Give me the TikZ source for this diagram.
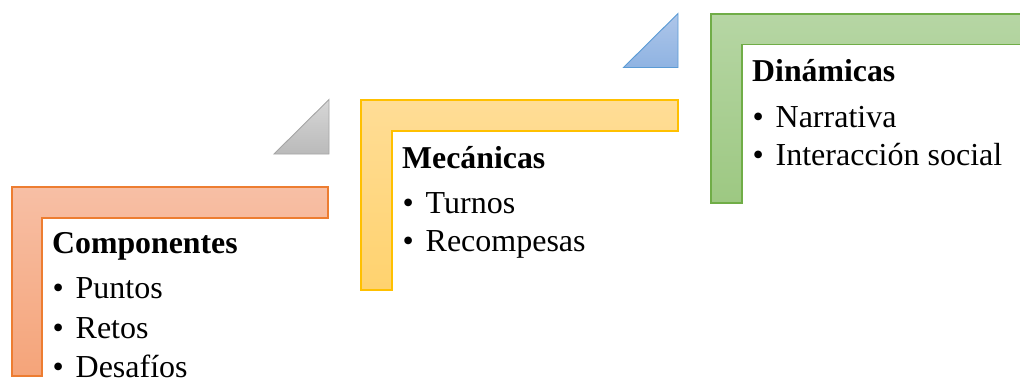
\documentclass[tikz,border=0pt]{standalone}
\usepackage{fontspec}
\setmainfont{Liberation Serif}
\begin{document}
\begin{tikzpicture}[x=1pt,y=-1pt,
  head/.style={anchor=base west,inner sep=0pt,font=\fontsize{31.8}{37}\selectfont\bfseries},
  item/.style={anchor=base west,inner sep=0pt,font=\fontsize{32}{37}\selectfont},
  lshape/.style={line width=1.1pt},
  tri/.style={line width=0.9pt}]
\useasboundingbox (0,0) rectangle (1020,378);
\clip (0,0) rectangle (1020,378);
\newcommand{\bul}[1]{\makebox[23pt][l]{•}#1}
% orange L
\shade[lshape, draw={rgb,255:red,237;green,125;blue,49},
  top color={rgb,255:red,247;green,191;blue,165}, bottom color={rgb,255:red,245;green,164;blue,121}]
  (12,187) -- (328,187) -- (328,218) -- (42,218) -- (42,376) -- (12,376) -- cycle;
% yellow L
\shade[lshape, draw={rgb,255:red,255;green,192;blue,0},
  top color={rgb,255:red,255;green,221;blue,150}, bottom color={rgb,255:red,255;green,210;blue,110}]
  (361,100) -- (678,100) -- (678,131) -- (392,131) -- (392,290) -- (361,290) -- cycle;
% green L
\shade[lshape, draw={rgb,255:red,112;green,173;blue,71},
  top color={rgb,255:red,182;green,214;blue,164}, bottom color={rgb,255:red,157;green,200;blue,130}]
  (711,14) -- (1030,14) -- (1030,44.5) -- (742,44.5) -- (742,203) -- (711,203) -- cycle;
% gray triangle
\shade[tri, draw={rgb,255:red,165;green,165;blue,165},
  top color={rgb,255:red,215;green,215;blue,215}, bottom color={rgb,255:red,186;green,186;blue,186}]
  (274,154) -- (329,99.5) -- (329,154) -- cycle;
% blue triangle
\shade[tri, draw={rgb,255:red,91;green,155;blue,213},
  top color={rgb,255:red,174;green,198;blue,233}, bottom color={rgb,255:red,143;green,179;blue,226}]
  (623.5,67.5) -- (678,13.5) -- (678,67.5) -- cycle;
% texts
\node[head] (h1) at (52,253) {Componentes};
\node[item] (a1) at (52.5,298.5) {\bul{Puntos}};
\node[item] (a2) at (52.5,338) {\bul{Retos}};
\node[item] (a3) at (52.5,377.5) {\bul{Desafíos}};
\node[head] (h2) at (402,168.3) {Mecánicas};
\node[item] (b1) at (402.5,213.3) {\bul{Turnos}};
\node[item] (b2) at (402.5,251.7) {\bul{Recompesas}};
\node[head] (h3) at (752,81) {Dinámicas};
\node[item] (c1) at (752.5,127.7) {\bul{Narrativa}};
\node[item] (c2) at (752.5,165.7) {\bul{Interacción social}};
\end{tikzpicture}
\end{document}
